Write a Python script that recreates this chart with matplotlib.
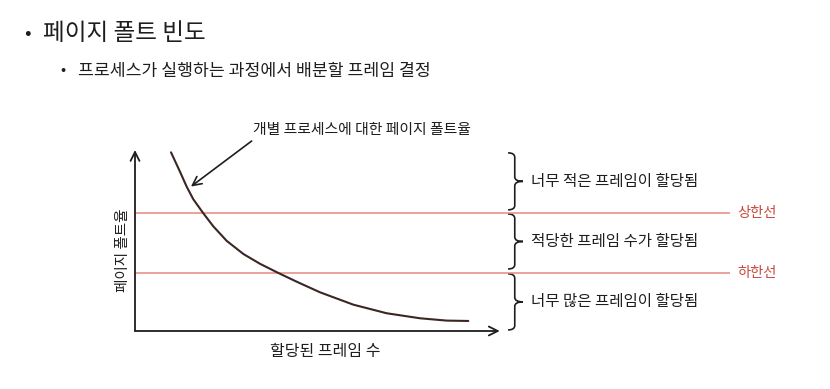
"""
Page-fault frequency diagram
"""
import matplotlib
matplotlib.use("Agg")
import matplotlib.pyplot as plt
from matplotlib.path import Path
from matplotlib.patches import PathPatch

plt.rcParams['font.family'] = ['Noto Sans CJK KR', 'DejaVu Sans']

# data (x: allocated frames, y: page fault rate)
frames = [6.05, 7.56, 8.69, 9.80, 11.48, 13.16, 15.41, 18.20, 21.01, 24.08,
          27.18, 31.09, 36.69, 42.30, 47.90, 52.39, 56.02]
fault_rate = [99.7, 88.9, 80.5, 73.5, 65.7, 58.4, 50.3, 43.0, 37.5, 32.4,
              27.5, 21.6, 14.7, 9.9, 7.1, 5.8, 5.6]
upper_limit = 65.8
lower_limit = 32.4
band_labels = ["너무 많은 프레임이 할당됨", "적당한 프레임 수가 할당됨", "너무 적은 프레임이 할당됨"]
limit_labels = ["상한선", "하한선"]
title = "페이지 폴트 빈도"
subtitle = "프로세스가 실행하는 과정에서 배분할 프레임 결정"
curve_label = "개별 프로세스에 대한 페이지 폴트율"
xlabel = "할당된 프레임 수"
ylabel = "페이지 폴트율"

RED_LINE = "#e4897f"
RED_TEXT = "#c9493d"
INK = "#1e1e1e"


def brace(ax, x, y0, y1, w):
    """ Draw a right facing curly brace from y0 to y1 """
    ym = (y0 + y1) / 2
    xm = x + w * 0.45
    r = min(2.5, (y1 - y0) / 6)
    verts = [(x, y1), (xm, y1), (xm, y1 - r),
             (xm, ym + r), (xm, ym), (x + w, ym),
             (xm, ym), (xm, ym - r),
             (xm, y0 + r), (xm, y0), (x, y0)]
    codes = [Path.MOVETO, Path.CURVE3, Path.CURVE3,
             Path.LINETO, Path.CURVE3, Path.CURVE3,
             Path.CURVE3, Path.CURVE3,
             Path.LINETO, Path.CURVE3, Path.CURVE3]
    ax.add_patch(PathPatch(Path(verts, codes), fc="none", ec=INK, lw=1.2,
                           clip_on=False))


fig = plt.figure(figsize=(8.3, 3.89), dpi=100)
ax = fig.add_axes([135 / 830, 1 - 331 / 389, 595 / 830, 181 / 389])
ax.set_xlim(0, 100)
ax.set_ylim(0, 101)
ax.axis("off")

# axes arrows
arrow = dict(arrowstyle="->", lw=1.3, color=INK, mutation_scale=16,
             shrinkA=0, shrinkB=0)
ax.annotate("", xy=(61.3, 0), xytext=(0, 0), arrowprops=arrow,
            annotation_clip=False)
ax.annotate("", xy=(0, 101), xytext=(0, 0), arrowprops=arrow,
            annotation_clip=False)

# limits
for yv, lab in zip([upper_limit, lower_limit], limit_labels):
    ax.axhline(yv, xmin=0, xmax=1, color=RED_LINE, lw=1.1)
    ax.text(101.2, yv, lab, color=RED_TEXT, fontsize=10.3, va="center",
            ha="left", clip_on=False)

# curve
ax.plot(frames, fault_rate, color="#3a2622", lw=1.5, clip_on=False,
        solid_capstyle="round", solid_joinstyle="round")

# braces and band labels
bands = [(0.6, lower_limit - 0.5), (lower_limit + 2.2, upper_limit - 0.5),
         (upper_limit + 1.8, 99.4)]
for (y0, y1), lab in zip(bands, band_labels):
    brace(ax, 62.7, y0, y1, 2.5)
    ax.text(66.6, (y0 + y1) / 2, lab, fontsize=11.2, color=INK, va="center",
            ha="left")

# curve annotation
ax.text(19.8, 112.3, curve_label, fontsize=10.7, color=INK, ha="left",
        va="center", clip_on=False)
ax.annotate("", xy=(9.4, 80.6), xytext=(19.6, 106.0),
            arrowprops=dict(arrowstyle="->", lw=1.2, color=INK,
                            mutation_scale=16, shrinkA=0, shrinkB=0),
            annotation_clip=False)

ax.text(31.9, -11.7, xlabel, fontsize=11.5, color=INK, ha="center",
        va="center", clip_on=False)
ax.text(-2.0, 45, ylabel, fontsize=10.5, color=INK, ha="center",
        va="center", rotation=90, clip_on=False)

# slide heading
fig.text(24 / 830, 1 - 34 / 389, "•", fontsize=14, color=INK, va="center")
fig.text(43 / 830, 1 - 33 / 389, title, fontsize=17, color=INK,
         va="center")
fig.text(60 / 830, 1 - 71 / 389, "•", fontsize=11, color=INK, va="center")
fig.text(78 / 830, 1 - 71 / 389, subtitle, fontsize=12.4, color=INK,
         va="center")

fig.savefig("out.png", dpi=100, facecolor="white")
